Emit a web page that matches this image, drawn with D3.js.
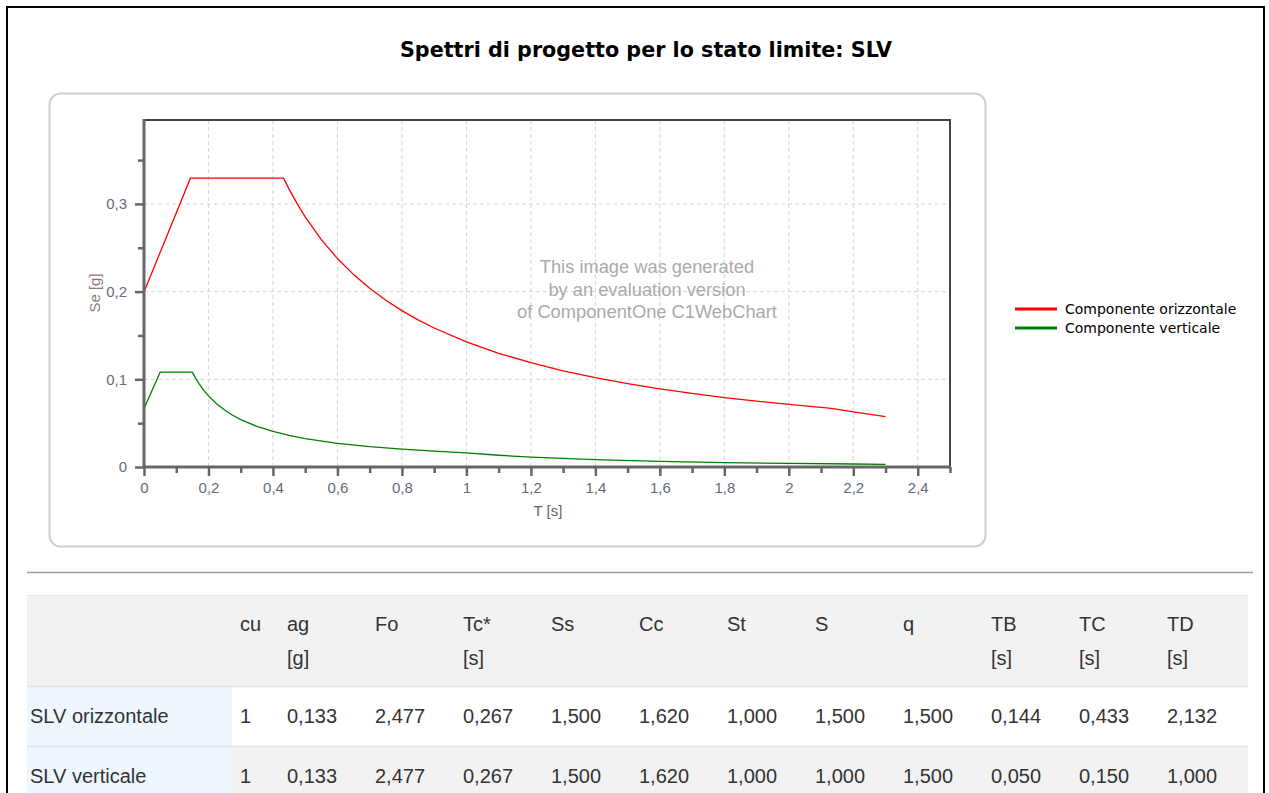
<!DOCTYPE html>
<html>
<head>
<meta charset="utf-8">
<script src="https://cdn.jsdelivr.net/npm/d3@7"></script>
<style>
  html, body { margin: 0; padding: 0; background: #fff; overflow: hidden; }
  svg { display: block; }
</style>
</head>
<body>
<svg id="chart" width="1269" height="793"></svg>
<script>
// ---- Data ----
const titleText = "Spettri di progetto per lo stato limite: SLV";
const seriesNames = ["Componente orizzontale", "Componente verticale"];
const seriesColors = ["#ff0000", "#008000"];

const hT  = [0, 0.144, 0.433, 0.45, 0.475, 0.5, 0.55, 0.6, 0.65, 0.7, 0.75, 0.8, 0.85, 0.9, 1.0, 1.1, 1.2, 1.3, 1.4, 1.5, 1.6, 1.7, 1.8, 1.9, 2.0, 2.1, 2.132, 2.2, 2.3];
const hSe = [0.1995, 0.3294, 0.3294, 0.3169, 0.3003, 0.2853, 0.2593, 0.2377, 0.2194, 0.2038, 0.1902, 0.1783, 0.1678, 0.1585, 0.1426, 0.1297, 0.1189, 0.1097, 0.1019, 0.0951, 0.0891, 0.0839, 0.0792, 0.0751, 0.0713, 0.0679, 0.0669, 0.0628, 0.0575];

const vT  = [0, 0.05, 0.15, 0.16, 0.17, 0.18, 0.19, 0.2, 0.225, 0.25, 0.275, 0.3, 0.35, 0.4, 0.45, 0.5, 0.6, 0.7, 0.8, 0.9, 1.0, 1.1, 1.2, 1.4, 1.6, 1.8, 2.0, 2.2, 2.3];
const vSe = [0.0665, 0.1081, 0.1081, 0.1013, 0.0954, 0.0901, 0.0853, 0.0811, 0.0721, 0.0649, 0.0590, 0.0541, 0.0463, 0.0405, 0.0360, 0.0324, 0.0270, 0.0232, 0.0203, 0.0180, 0.0162, 0.0134, 0.0113, 0.0083, 0.0063, 0.0050, 0.0041, 0.0034, 0.0031];

const xTicks = [0, 0.2, 0.4, 0.6, 0.8, 1, 1.2, 1.4, 1.6, 1.8, 2, 2.2, 2.4];
const xMinor = [0.1, 0.3, 0.5, 0.7, 0.9, 1.1, 1.3, 1.5, 1.7, 1.9, 2.1, 2.3, 2.5];
const yTicks = [0, 0.1, 0.2, 0.3];
const yMinor = [0.05, 0.15, 0.25, 0.35];
const xTitle = "T [s]";
const yTitle = "Se [g]";
const watermark = ["This image was generated", "by an evaluation version", "of ComponentOne C1WebChart"];

// Table
const tableHeaders = [["", ""], ["cu", ""], ["ag", "[g]"], ["Fo", ""], ["Tc*", "[s]"], ["Ss", ""], ["Cc", ""], ["St", ""], ["S", ""], ["q", ""], ["TB", "[s]"], ["TC", "[s]"], ["TD", "[s]"]];
const rowLabels = ["SLV orizzontale", "SLV verticale"];
const rowValues = [
  ["1", "0,133", "2,477", "0,267", "1,500", "1,620", "1,000", "1,500", "1,500", "0,144", "0,433", "2,132"],
  ["1", "0,133", "2,477", "0,267", "1,500", "1,620", "1,000", "1,000", "1,500", "0,050", "0,150", "1,000"]
];

// ---- Drawing ----
const svg = d3.select("#chart");
const fmt = d => d3.format("")(d).replace(".", ",");
const sans = "Liberation Sans, Arial, sans-serif";

// page border
svg.append("rect").attr("x", 7).attr("y", 7).attr("width", 1257).attr("height", 800)
  .attr("fill", "none").attr("stroke", "#000").attr("stroke-width", 2);

// title
svg.append("text").attr("x", 646).attr("y", 57).attr("text-anchor", "middle")
  .attr("font-family", "DejaVu Sans, Verdana, sans-serif").attr("font-weight", "bold")
  .attr("font-size", 20.7).attr("fill", "#000").text(titleText);

// chart frame
svg.append("rect").attr("x", 49.5).attr("y", 93.5).attr("width", 936).attr("height", 453)
  .attr("rx", 11).attr("fill", "#fff").attr("stroke", "#cfcfcf").attr("stroke-width", 2);

const L = 144, R = 950, T = 120, B = 467;
const x = d3.scaleLinear().domain([0, 2.5]).range([L, R]);
const y = d3.scaleLinear().domain([0, 0.3957]).range([B, T]);

const g = svg.append("g");

// grid
g.append("g").selectAll("line").data(xTicks.filter(d => d > 0)).join("line")
  .attr("x1", d => x(d)).attr("x2", d => x(d)).attr("y1", T).attr("y2", B)
  .attr("stroke", "#d4d4d4").attr("stroke-dasharray", "4,3").attr("stroke-width", 1);
g.append("g").selectAll("line").data(yTicks.filter(d => d > 0)).join("line")
  .attr("x1", L).attr("x2", R).attr("y1", d => y(d)).attr("y2", d => y(d))
  .attr("stroke", "#d4d4d4").attr("stroke-dasharray", "4,3").attr("stroke-width", 1);

// top / right border
g.append("path").attr("d", `M${L},${T}H${R}V${B}`).attr("fill", "none")
  .attr("stroke", "#444").attr("stroke-width", 2);

// watermark
const wm = g.append("text").attr("text-anchor", "middle")
  .attr("font-family", sans).attr("font-size", 18.3).attr("fill", "#aaaaaa");
watermark.forEach((s, i) => wm.append("tspan").attr("x", 647).attr("y", 273 + i * 22.5).text(s));

// lines
const line = d3.line().x(d => x(d[0])).y(d => y(d[1]));
g.append("path").datum(hT.map((t, i) => [t, hSe[i]])).attr("d", line)
  .attr("fill", "none").attr("stroke", seriesColors[0]).attr("stroke-width", 1.3);
g.append("path").datum(vT.map((t, i) => [t, vSe[i]])).attr("d", line)
  .attr("fill", "none").attr("stroke", seriesColors[1]).attr("stroke-width", 1.3);

// axes
const axisColor = "#666";
const xAxis = g.append("g").attr("transform", `translate(0,${B})`)
  .call(d3.axisBottom(x).tickValues(xTicks).tickFormat(fmt).tickSize(9).tickPadding(6));
const xAxisMinor = g.append("g").attr("transform", `translate(0,${B})`)
  .call(d3.axisBottom(x).tickValues(xMinor).tickFormat("").tickSize(6));
const yAxis = g.append("g").attr("transform", `translate(${L},0)`)
  .call(d3.axisLeft(y).tickValues(yTicks).tickFormat(fmt).tickSize(9).tickPadding(8));
const yAxisMinor = g.append("g").attr("transform", `translate(${L},0)`)
  .call(d3.axisLeft(y).tickValues(yMinor).tickFormat("").tickSize(6));
[xAxis, xAxisMinor, yAxis, yAxisMinor].forEach(a => {
  a.select(".domain").remove();
  a.selectAll(".tick line").attr("stroke", axisColor).attr("stroke-width", 2.5);
  a.selectAll("text").attr("fill", "#626b78").attr("font-family", sans).attr("font-size", 15);
});
g.append("line").attr("x1", L).attr("x2", R + 1).attr("y1", B).attr("y2", B)
  .attr("stroke", axisColor).attr("stroke-width", 3);
g.append("line").attr("x1", L).attr("x2", L).attr("y1", T - 1).attr("y2", B + 1.5)
  .attr("stroke", axisColor).attr("stroke-width", 3);

// axis titles
g.append("text").attr("x", 548).attr("y", 516).attr("text-anchor", "middle")
  .attr("font-family", sans).attr("font-size", 15).attr("fill", "#666").text(xTitle);
g.append("text").attr("transform", `translate(100,293) rotate(-90)`).attr("text-anchor", "middle")
  .attr("font-family", sans).attr("font-size", 15).attr("fill", "#8a7a72").text(yTitle);

// legend
const leg = svg.append("g");
seriesNames.forEach((n, i) => {
  const ly = 309 + i * 19;
  leg.append("line").attr("x1", 1015).attr("x2", 1057).attr("y1", ly).attr("y2", ly)
    .attr("stroke", seriesColors[i]).attr("stroke-width", 3);
  leg.append("text").attr("x", 1065).attr("y", ly + 5)
    .attr("font-family", "DejaVu Sans, Verdana, sans-serif").attr("font-size", 14).attr("fill", "#000").text(n);
});

// separator
svg.append("line").attr("x1", 27).attr("x2", 1253).attr("y1", 572.5).attr("y2", 572.5)
  .attr("stroke", "#9a9a9a").attr("stroke-width", 1.5);

// table
const colX = [30, 240, 287, 375, 463, 551, 639, 727, 815, 903, 991, 1079, 1167];
const tL = 27, tR = 1248, firstW = 205;
const rowsY = [595, 686, 746, 806];
const fs = 20;
const tbl = svg.append("g");
// header
tbl.append("rect").attr("x", tL).attr("y", rowsY[0]).attr("width", tR - tL).attr("height", rowsY[1] - rowsY[0]).attr("fill", "#f2f2f2");
tbl.append("line").attr("x1", tL).attr("x2", tR).attr("y1", rowsY[0] + 0.5).attr("y2", rowsY[0] + 0.5).attr("stroke", "#e4e4e4");
// rows
rowLabels.forEach((lab, r) => {
  const y0 = rowsY[r + 1], y1 = rowsY[r + 2];
  tbl.append("rect").attr("x", tL).attr("y", y0).attr("width", tR - tL).attr("height", y1 - y0).attr("fill", r === 0 ? "#ffffff" : "#f2f2f2");
  tbl.append("rect").attr("x", tL).attr("y", y0).attr("width", firstW).attr("height", y1 - y0).attr("fill", "#eef6fe");
  tbl.append("line").attr("x1", tL).attr("x2", tR).attr("y1", y0 + 0.5).attr("y2", y0 + 0.5).attr("stroke", "#e2e2e2").attr("stroke-width", 1.5);
  const cy = y0 + 37;
  tbl.append("text").attr("x", colX[0]).attr("y", cy).attr("font-family", sans).attr("font-size", fs).attr("fill", "#333").text(lab);
  rowValues[r].forEach((v, c) => {
    tbl.append("text").attr("x", colX[c + 1]).attr("y", cy).attr("font-family", sans).attr("font-size", fs).attr("fill", "#333").text(v);
  });
});
tableHeaders.forEach((h, c) => {
  tbl.append("text").attr("x", colX[c]).attr("y", 631).attr("font-family", sans).attr("font-size", fs).attr("fill", "#333").text(h[0]);
  if (h[1]) tbl.append("text").attr("x", colX[c]).attr("y", 665).attr("font-family", sans).attr("font-size", fs).attr("fill", "#333").text(h[1]);
});
</script>
</body>
</html>
